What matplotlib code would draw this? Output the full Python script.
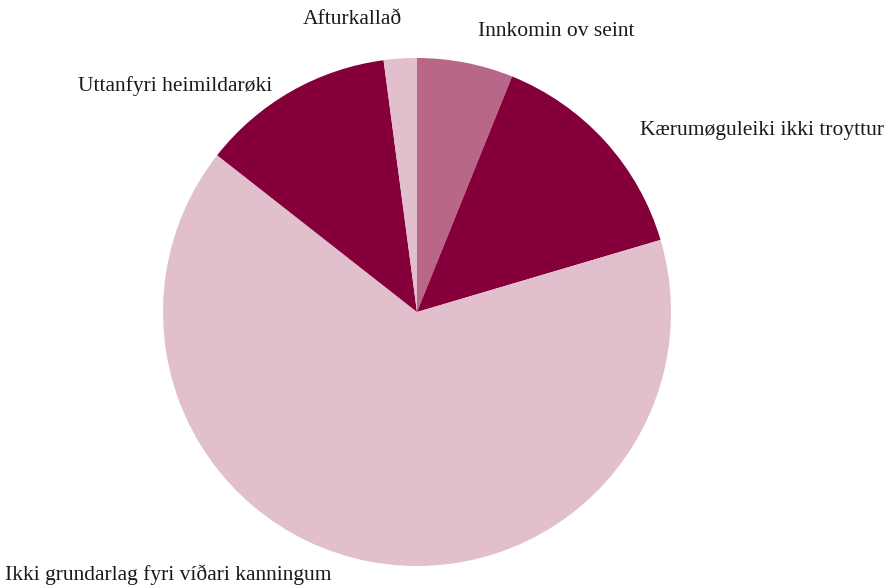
import matplotlib

matplotlib.use("Agg")

import matplotlib.pyplot as plt

# Slices, clockwise from the top
labels = [
    "Innkomin ov seint",
    "Kærumøguleiki ikki troyttur",
    "Ikki grundarlag fyri víðari kanningum",
    "Uttanfyri heimildarøki",
    "Afturkallað",
]
shares = [6.1, 14.3, 65.1, 12.3, 2.1]
colors = ["#b86788", "#85003a", "#e2bfcc", "#85003a", "#e2bfcc"]

# label anchor (x, y in pixels from top-left) and alignment
label_pos = [(478, 32), (640, 130), (5, 575), (272, 86), (352, 20)]
label_ha = ["left", "left", "left", "right", "center"]

W, H = 890, 585
fig = plt.figure(figsize=(W / 100, H / 100), dpi=100)
ax = fig.add_axes([0, 0, 1, 1])

ax.pie(
    shares,
    colors=colors,
    startangle=90,
    counterclock=False,
    center=(417, H - 312),
    radius=254,
    wedgeprops={"linewidth": 0},
)

for text, (x, y), ha in zip(labels, label_pos, label_ha):
    ax.text(x, H - y, text, ha=ha, va="center", fontsize=15.5,
            family="Liberation Serif", color="#1a1a1a")

ax.set_xlim(0, W)
ax.set_ylim(0, H)
ax.set_aspect("equal")
ax.axis("off")

fig.savefig("out.png", dpi=100)
plt.close(fig)
